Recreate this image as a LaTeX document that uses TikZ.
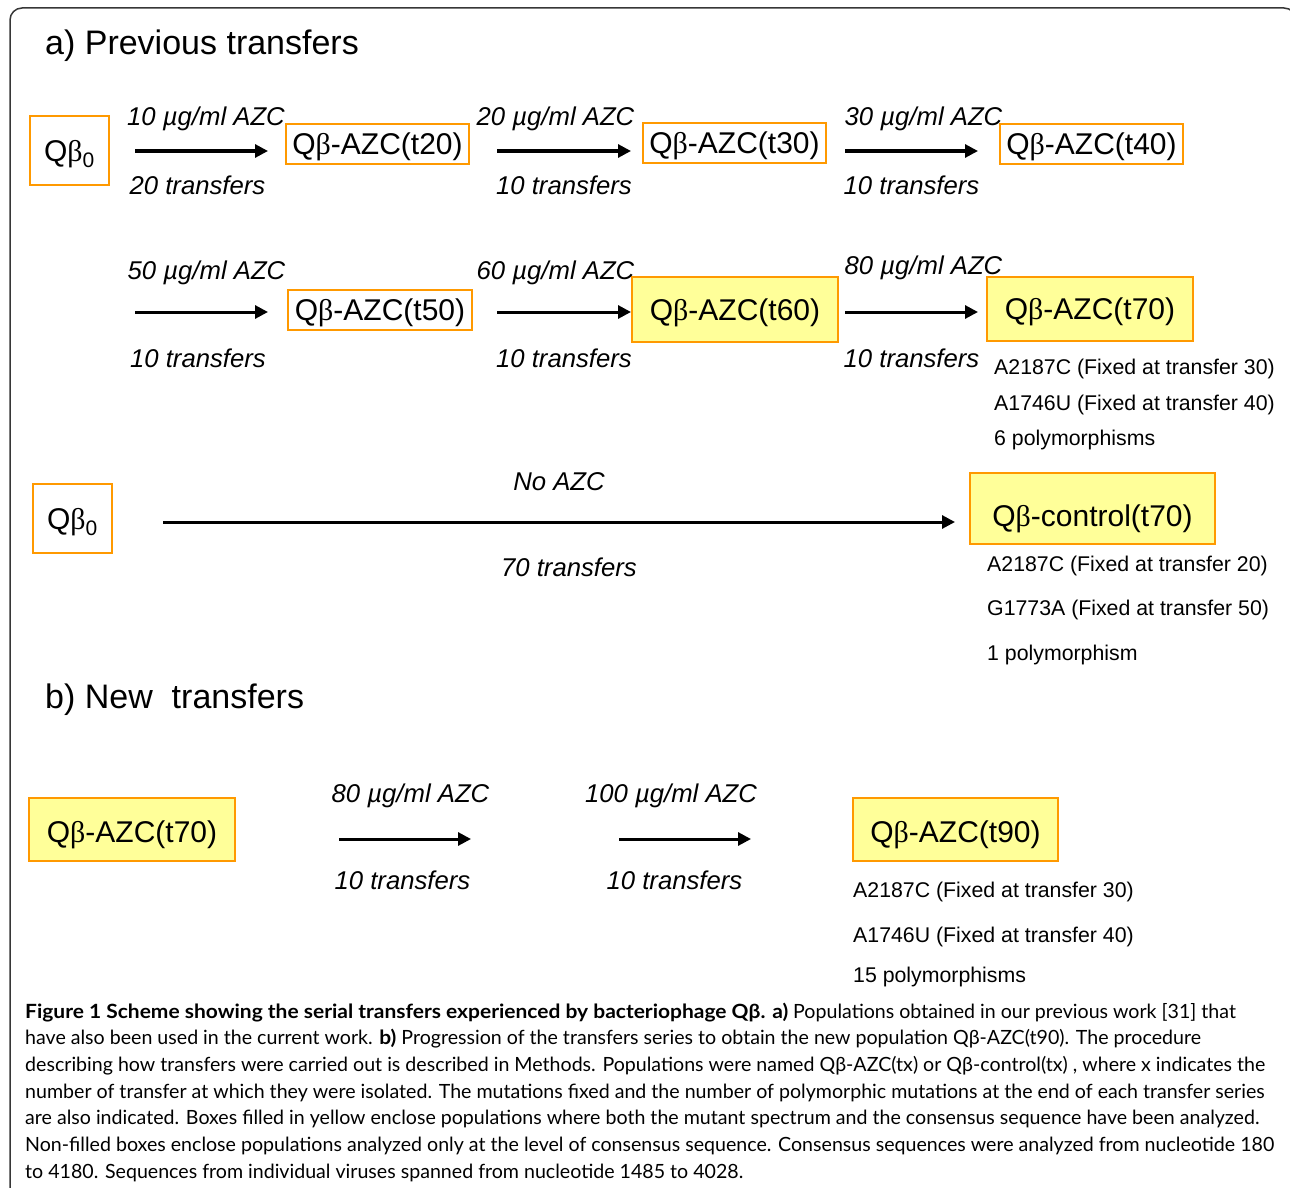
\documentclass[tikz,border=0pt]{standalone}
\usepackage{fontspec}
\setmainfont{Liberation Sans}
\newfontfamily\capfont{Lato}[BoldFeatures={FakeStretch=1.07}]
\newfontfamily\betafont{Liberation Serif}
\usetikzlibrary{arrows.meta}
\definecolor{boxorange}{RGB}{255,153,0}
\definecolor{boxyellow}{RGB}{255,255,153}
\definecolor{framegray}{RGB}{55,55,55}
\newcommand{\fs}[1]{\fontsize{#1}{#1}\selectfont}
\newcommand{\qb}{Q{\betafont β}}

\begin{document}
\begin{tikzpicture}[x=1pt, y=-1pt, >={Triangle[length=13pt,width=13pt]},
		arr/.style={->, line width=3pt},
		pop/.style={draw=boxorange, line width=2pt, inner sep=0pt, font=\fs{30}, text height=21.5pt, text depth=0pt},
		popy/.style={pop, fill=boxyellow},
		lbl/.style={font=\itshape\fs{25.7}, text height=18.4pt, text depth=0pt},
		note/.style={anchor=west, inner sep=0pt, font=\fs{21.3}, text height=15pt, text depth=0pt},
		head/.style={anchor=west, inner sep=0pt, font=\fs{34}, text height=24.5pt, text depth=0pt},
		capline/.style={anchor=base west, inner sep=0pt, font=\capfont\fs{19.6}}]
		\useasboundingbox (0,0) rectangle (1290,1188);
		\clip (0,0) rectangle (1290,1188);
		\draw[framegray, line width=1.5pt, rounded corners=12pt] (10,8) rectangle (1296,1210);
		
		\node[head] (ta) at (45,42) {a) Previous transfers};
		\node[head] (tb) at (45,696) {b) New\ \ transfers};
		
		\node[pop, minimum width=79pt, minimum height=69pt] (q0a) at (69.5,150.5) {\qb\textsubscript{0}};
		\node[pop, minimum width=183pt, minimum height=40pt] (t20) at (377.5,144) {\qb-AZC(t20)};
		\node[pop, minimum width=183pt, minimum height=40pt] (t30) at (734.5,143) {\qb-AZC(t30)};
		\node[pop, minimum width=183pt, minimum height=40pt] (t40) at (1091.5,144) {\qb-AZC(t40)};
		\node[pop, minimum width=184pt, minimum height=40pt] (t50) at (380,310) {\qb-AZC(t50)};
		\node[popy, minimum width=206pt, minimum height=65pt] (t60) at (735,309.5) {\qb-AZC(t60)};
		\node[popy, minimum width=206pt, minimum height=64pt] (t70) at (1090,309) {\qb-AZC(t70)};
		\node[pop, minimum width=79pt, minimum height=69pt] (q0b) at (72.5,518.5) {\qb\textsubscript{0}};
		\node[popy, minimum width=245pt, minimum height=71pt, text height=36.5pt] (ctl) at (1092.5,508.5) {\qb-control(t70)};
		\node[popy, minimum width=206pt, minimum height=63pt, text height=26.5pt] (t70b) at (132,829.5) {\qb-AZC(t70)};
		\node[popy, minimum width=205pt, minimum height=63pt, text height=26.5pt] (t90) at (955.5,829.5) {\qb-AZC(t90)};
		
		\coordinate (a1) at (135,151);  \coordinate (b1) at (268,151);
		\coordinate (a2) at (497,151);  \coordinate (b2) at (631,151);
		\coordinate (a3) at (845,151);  \coordinate (b3) at (978,151);
		\coordinate (a4) at (135,312);  \coordinate (b4) at (268,312);
		\coordinate (a5) at (497,312);  \coordinate (b5) at (631,312);
		\coordinate (a6) at (845,312);  \coordinate (b6) at (978,312);
		\coordinate (a7) at (163,522);  \coordinate (b7) at (955,522);
		\coordinate (a8) at (339,839);  \coordinate (b8) at (471,839);
		\coordinate (a9) at (619,839);  \coordinate (b9) at (751,839);
		
		\draw[arr] (a1) -- node[lbl, xshift=4.5pt, yshift=35pt] {10 µg/ml AZC} node[lbl, xshift=-4pt, yshift=-34pt] {20 transfers} (b1);
		\draw[arr] (a2) -- node[lbl, xshift=-8.5pt, yshift=35pt] {20 µg/ml AZC} node[lbl, yshift=-34pt] {10 transfers} (b2);
		\draw[arr] (a3) -- node[lbl, xshift=12pt, yshift=35pt] {30 µg/ml AZC} node[lbl, yshift=-34pt] {10 transfers} (b3);
		\draw[arr] (a4) -- node[lbl, xshift=5pt, yshift=42pt] {50 µg/ml AZC} node[lbl, xshift=-3.5pt, yshift=-46pt] {10 transfers} (b4);
		\draw[arr] (a5) -- node[lbl, xshift=-8.5pt, yshift=42pt] {60 µg/ml AZC} node[lbl, yshift=-46pt] {10 transfers} (b5);
		\draw[arr] (a6) -- node[lbl, xshift=12pt, yshift=47pt] {80 µg/ml AZC} node[lbl, yshift=-46pt] {10 transfers} (b6);
		\draw[arr] (a7) -- node[lbl, yshift=41pt] {No AZC} node[lbl, xshift=10pt, yshift=-45pt] {70 transfers} (b7);
		\draw[arr] (a8) -- node[lbl, xshift=5.5pt, yshift=46pt] {80 µg/ml AZC} node[lbl, xshift=-2.5pt, yshift=-41pt] {10 transfers} (b8);
		\draw[arr] (a9) -- node[lbl, xshift=-14pt, yshift=46pt] {100 µg/ml AZC} node[lbl, xshift=-10.5pt, yshift=-41pt] {10 transfers} (b9);
		
		\node[note] (n1) at (994,367) {A2187C (Fixed at transfer 30)};
		\node[note] (n2) at (994,403) {A1746U (Fixed at transfer 40)};
		\node[note] (n3) at (994,438) {6 polymorphisms};
		\node[note] (n4) at (987,564) {A2187C (Fixed at transfer 20)};
		\node[note] (n5) at (987,608) {G1773A (Fixed at transfer 50)};
		\node[note] (n6) at (987,653) {1 polymorphism};
		\node[note] (n7) at (853,890) {A2187C (Fixed at transfer 30)};
		\node[note] (n8) at (853,935) {A1746U (Fixed at transfer 40)};
		\node[note] (n9) at (853,975) {15 polymorphisms};
		
		\foreach \ln [count=\i] in {
			{\textbf{Figure 1 Scheme showing the serial transfers experienced by bacteriophage Qβ. a)} Populations obtained in our previous work [31] that},
			{have also been used in the current work. \textbf{b)} Progression of the transfers series to obtain the new population Qβ-AZC(t90). The procedure},
			{describing how transfers were carried out is described in Methods. Populations were named Qβ-AZC(tx) or Qβ-control(tx) , where x indicates the},
			{number of transfer at which they were isolated. The mutations fixed and the number of polymorphic mutations at the end of each transfer series},
			{are also indicated. Boxes filled in yellow enclose populations where both the mutant spectrum and the consensus sequence have been analyzed.},
			{Non-filled boxes enclose populations analyzed only at the level of consensus sequence. Consensus sequences were analyzed from nucleotide 180},
			{to 4180. Sequences from individual viruses spanned from nucleotide 1485 to 4028.}}
			\node[capline] (cap\i) at (25,991.3+26.7*\i) {\ln};
\end{tikzpicture}
\end{document}
